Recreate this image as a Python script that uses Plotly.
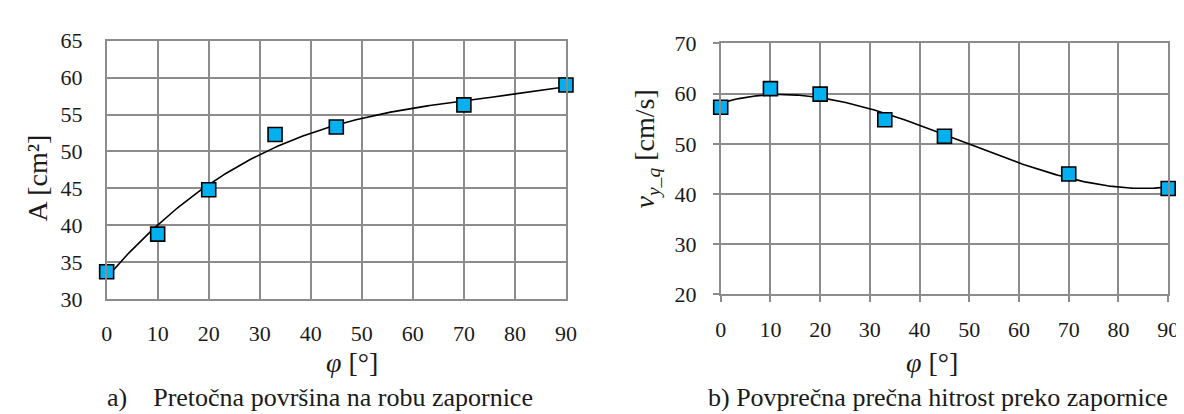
import numpy as np
import plotly.graph_objects as go

# ---- data ----
phi = [0, 10, 20, 33, 45, 70, 90]
area = [33.7, 38.8, 44.8, 52.3, 53.3, 56.3, 59.0]
vel = [57.3, 61.0, 59.9, 54.8, 51.5, 44.0, 41.1]
x_ticks = [0, 10, 20, 30, 40, 50, 60, 70, 80, 90]
caption_a = "a)    Pretočna površina na robu zapornice"
caption_b = "b) Povprečna prečna hitrost preko zapornice"

# trendlines (3rd order polynomial fits of the data)
xs = np.linspace(0, 90, 200)
ca = np.polyfit(phi, area, 3)
cv = np.polyfit(phi, vel, 3)

W, H = 1184, 414
FONT = "Times New Roman, Liberation Serif, serif"
GRID = "#8c8c8c"
MARK = "#00B0F0"
TXT = "#1a1a1a"

fig = go.Figure()
fig.add_trace(go.Scatter(x=xs, y=np.polyval(ca, xs), mode="lines",
                         line=dict(color="black", width=1.6),
                         xaxis="x", yaxis="y", showlegend=False, hoverinfo="skip"))
fig.add_trace(go.Scatter(x=phi, y=area, mode="markers", cliponaxis=False,
                         marker=dict(symbol="square", size=14, color=MARK,
                                     line=dict(color="black", width=1.6)),
                         xaxis="x", yaxis="y", showlegend=False))
fig.add_trace(go.Scatter(x=xs, y=np.polyval(cv, xs), mode="lines",
                         line=dict(color="black", width=1.6),
                         xaxis="x2", yaxis="y2", showlegend=False, hoverinfo="skip"))
fig.add_trace(go.Scatter(x=phi, y=vel, mode="markers", cliponaxis=False,
                         marker=dict(symbol="square", size=14, color=MARK,
                                     line=dict(color="black", width=1.6)),
                         xaxis="x2", yaxis="y2", showlegend=False))

def px_x(p):
    return p / W

def px_y(p):
    return 1 - p / H

base = dict(showgrid=True, gridcolor=GRID, gridwidth=1.5, zeroline=False,
            showline=True, linecolor=GRID, linewidth=1.5, mirror=True,
            tickcolor=GRID, tickwidth=1.5,
            tickfont=dict(family=FONT, size=22, color=TXT))

fig.update_layout(
    width=W, height=H, margin=dict(l=0, r=0, t=0, b=0),
    paper_bgcolor="white", plot_bgcolor="white",
    font=dict(family=FONT, color=TXT),
    xaxis=dict(domain=[px_x(94), px_x(560)], range=[0, 90], tickvals=x_ticks,
               anchor="y", ticks="", ticklabelstandoff=14, **base),
    yaxis=dict(domain=[px_y(297), px_y(22)], range=[30, 65], dtick=5,
               anchor="x", ticks="", ticklabelstandoff=18, **base),
    xaxis2=dict(domain=[px_x(717), px_x(1171)], range=[0, 90], tickvals=x_ticks,
                anchor="y2", ticks="outside", ticklen=6, ticklabelstandoff=8, **base),
    yaxis2=dict(domain=[px_y(292), px_y(25)], range=[20, 70], dtick=10,
                anchor="x2", ticks="outside", ticklen=6, ticklabelstandoff=12, **base),
)

def note(x, y, text, size, angle=0):
    return dict(x=px_x(x), y=px_y(y), xref="paper", yref="paper",
                xanchor="center", yanchor="middle", text=text, showarrow=False,
                textangle=angle, font=dict(family=FONT, size=size, color=TXT))

ann = [
    note(343, 365, "<i>φ</i> [°]", 28),
    note(931, 365, "<i>φ</i> [°]", 28),
    note(24, 168, "A [cm²]", 28, -90),
    note(642, 137, "<i>v</i><sub><i>y_q</i></sub> [cm/s]", 28, -90),
    note(310, 402, caption_a, 26),
    note(937, 402, caption_b, 26),
]
fig.update_layout(annotations=ann)

fig.write_html("out.html")
